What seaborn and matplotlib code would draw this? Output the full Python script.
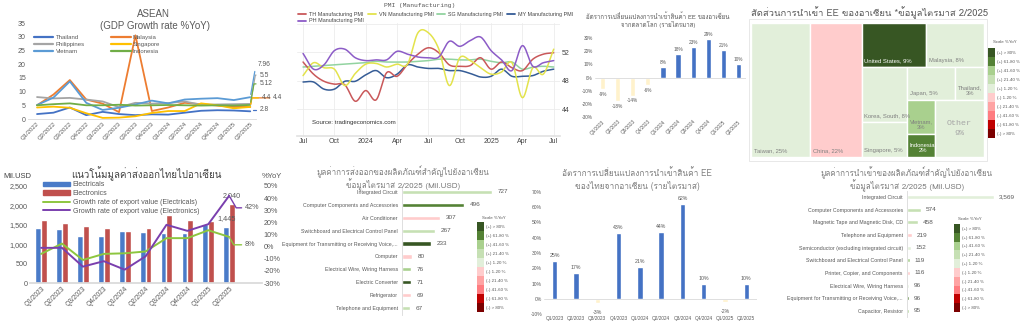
import numpy as np
import pandas as pd
import matplotlib
matplotlib.use("Agg")
import matplotlib.pyplot as plt
import seaborn as sns
from matplotlib import font_manager
from matplotlib.ft2font import FT2Font
from matplotlib.patches import Rectangle
from matplotlib.lines import Line2D
from matplotlib.patches import Patch

# ---------------- ASEAN GDP growth (%YoY) ----------------
gdp_quarters = ["Q1/2022", "Q2/2022", "Q3/2022", "Q4/2022", "Q1/2023", "Q2/2023", "Q3/2023",
                "Q4/2023", "Q1/2024", "Q2/2024", "Q3/2024", "Q4/2024", "Q1/2025", "Q2/2025"]
gdp_thailand = [1.8, 2.3, 4.2, 1.4, 2.6, 1.8, 1.4, 1.7, 1.6, 2.3, 3.0, 3.2, 3.1, 2.8]
gdp_malaysia = [5.0, 8.9, 14.2, 7.1, 5.6, 2.5, 30.5, 2.9, 4.2, 5.9, 5.4, 4.9, 4.4, 4.4]
gdp_philippines = [8.0, 7.5, 7.7, 7.1, 6.4, 4.3, 5.9, 5.6, 5.8, 6.4, 5.2, 5.3, 5.4, 5.5]
gdp_singapore = [4.2, 4.5, 4.1, 2.1, 0.4, 0.5, 1.0, 2.2, 2.9, 2.9, 5.7, 5.0, 3.9, 4.4]
gdp_vietnam = [5.1, 7.8, 13.7, 5.9, 3.3, 4.1, 5.3, 6.7, 5.7, 7.1, 7.4, 7.6, 6.9, 7.96]
gdp_indonesia = [5.0, 5.4, 5.7, 5.0, 5.0, 5.2, 4.9, 5.0, 5.1, 5.0, 4.9, 5.0, 4.9, 5.12]

# ---------------- Manufacturing PMI, Jul 2023 - Jul 2025 ----------------
pmi_ticks = ["Jul", "Oct", "2024", "Apr", "Jul", "Oct", "2025", "Apr", "Jul"]
pmi_th = [50.6, 48.9, 47.9, 47.5, 47.4, 45.1, 46.6, 45.3, 49.1, 48.6, 50.3, 51.7, 52.6,
          51.9, 50.2, 50.0, 50.1, 51.2, 49.6, 50.6, 49.8, 49.4, 51.0, 51.7, 51.9]
pmi_vn = [48.7, 50.5, 49.8, 49.6, 47.3, 49.0, 50.3, 50.4, 49.9, 50.3, 50.3, 54.7, 54.7,
          52.4, 47.3, 51.2, 50.8, 49.8, 48.9, 49.2, 50.5, 45.6, 49.8, 48.9, 52.4]
pmi_sg = [49.9, 50.0, 50.1, 50.2, 50.3, 50.4, 50.5, 50.7, 50.6, 50.6, 50.6, 50.7, 50.8,
          51.0, 51.0, 50.9, 50.9, 51.0, 50.7, 50.5, 50.6, 49.6, 49.9, 50.0, 49.9]
pmi_my = [47.8, 47.8, 46.8, 46.8, 47.9, 47.9, 48.8, 49.4, 48.4, 48.9, 50.2, 49.9, 49.7,
          49.7, 49.4, 49.4, 49.0, 48.5, 48.6, 49.6, 48.6, 48.6, 48.7, 49.3, 49.6]
pmi_ph = [51.8, 49.6, 50.2, 52.2, 52.4, 51.2, 50.8, 50.9, 50.9, 52.1, 51.7, 51.3, 51.2,
          51.3, 53.5, 52.8, 53.6, 54.1, 52.2, 50.9, 49.4, 52.9, 50.0, 50.5, 50.8]

# ---------------- ASEAN EE import growth from world (%) ----------------
imp_quarters = ["Q1/2023", "Q2/2023", "Q3/2023", "Q4/2023", "Q1/2024",
                "Q2/2024", "Q3/2024", "Q4/2024", "Q1/2025", "Q2/2025"]
asean_imp_growth = [-9, -18, -14, -6, 8, 18, 23, 29, 21, 10]

# ---------------- ASEAN EE import share, Q2/2025 ----------------
share_names = ["Taiwan", "China", "United States", "Malaysia", "Korea, South", "Singapore",
               "Japan", "Thailand", "Vietnam", "Indonesia", "Other"]
share_pct = [25, 22, 9, 8, 8, 5, 5, 3, 3, 2, 9]
share_scale = ["+1-20", "-1-20", "+>80", "+1-20", "+1-20", "+1-20",
               "+1-20", "+1-20", "+41-60", "+61-80", "+1-20"]

# ---------------- Thai exports to ASEAN ----------------
exp_quarters = ["Q1/2023", "Q2/2023", "Q3/2023", "Q4/2023", "Q1/2024",
                "Q2/2024", "Q3/2024", "Q4/2024", "Q1/2025", "Q2/2025"]
exp_electricals = [1420, 1390, 1210, 1210, 1340, 1320, 1300, 1300, 1530, 1445]
exp_electronics = [1620, 1540, 1460, 1420, 1330, 1430, 1750, 1620, 1600, 2040]
growth_electricals = [-6, 2.5, -11, -6, -5.5, -4, 7, 7, 13.5, 8]
growth_electronics = [-1, -1, -16.5, -12, -19, -8, 18, 13, 18.5, 42]

# ---------------- Key export products to ASEAN, Q2/2025 (Mil.USD) ----------------
exp_products = ["Integrated Circuit", "Computer Components and Accessories", "Air Conditioner",
                "Switchboard and Electrical Control Panel",
                "Equipment for Transmitting or Receiving Voice,...", "Computer",
                "Electrical Wire, Wiring Harness", "Electric Converter", "Refrigerator",
                "Telephone and Equipment"]
exp_product_values = [727, 496, 307, 267, 233, 80, 76, 71, 69, 67]
exp_product_scale = ["+21-40", "+61-80", "-1-20", "+21-40", "+>80", "-1-20",
                     "+41-60", "+>80", "-1-20", "+21-40"]

# ---------------- Thai EE import growth from ASEAN (%) ----------------
th_imp_quarters = ["Q1/2023", "Q2/2023", "Q3/2023", "Q4/2023", "Q1/2024",
                   "Q2/2024", "Q3/2024", "Q4/2024", "Q1/2025", "Q2/2025"]
th_imp_growth = [25, 17, -3, 43, 21, 44, 62, 10, -2, 10]

# ---------------- Key import products from ASEAN, Q2/2025 (Mil.USD) ----------------
imp_products = ["Integrated Circuit", "Computer Components and Accessories",
                "Magnetic Tape and Magnetic Disk, CD", "Telephone and Equipment",
                "Semiconductor (excluding integrated circuit)",
                "Switchboard and Electrical Control Panel", "Printer, Copier, and Components",
                "Electrical Wire, Wiring Harness",
                "Equipment for Transmitting or Receiving Voice,...", "Capacitor, Resistor"]
imp_product_values = [3569, 574, 458, 219, 152, 119, 116, 96, 96, 95]
imp_product_scale = ["+1-20", "+21-40", "+21-40", "-1-20", "+1-20", "+41-60", "-1-20",
                     "+1-20", "+61-80", "+41-60"]

scale_keys = ["+>80", "+61-80", "+41-60", "+21-40", "+1-20",
              "-1-20", "-21-40", "-41-60", "-61-80", "->80"]
scale_labels = ["(+) > 80%", "(+) 61-80 %", "(+) 41-60 %", "(+) 21-40 %", "(+) 1-20 %",
                "(-) 1-20 %", "(-) 21-40 %", "(-) 41-60 %", "(-) 61-80 %", "(-) > 80%"]
scale_colors = ["#375623", "#548235", "#a9d08e", "#c6e0b4", "#e2efda",
                "#ffcccc", "#ffa3a3", "#ff7c80", "#c00000", "#7b0000"]
scale_map = dict(zip(scale_keys, scale_colors))

# ---------------- fonts ----------------
sns.set_theme(style="white")


def font_with_char(ch):
    code = ord(ch)
    seen = set()
    for f in font_manager.fontManager.ttflist:
        if f.fname in seen:
            continue
        seen.add(f.fname)
        try:
            if code in FT2Font(f.fname).get_charmap():
                return f.name
        except Exception:
            continue
    return None


thai_font = font_with_char("\u0e01")
installed = {f.name for f in font_manager.fontManager.ttflist}
narrow = "Liberation Sans Narrow" if "Liberation Sans Narrow" in installed else "Liberation Sans"
LATIN = [narrow, "Liberation Sans", "DejaVu Sans"]
THAI = ([thai_font] if thai_font else []) + ["Liberation Sans", "DejaVu Sans"]
MONO = ["Liberation Mono", "DejaVu Sans Mono"]
plt.rcParams["font.family"] = LATIN

GRAY = "#595959"
LGRAY = "#7f7f7f"

W, H = 1024, 328
fig = plt.figure(figsize=(W / 100, H / 100), dpi=100)
fig.patch.set_facecolor("white")


def add_px(x0, y0, x1, y1):
    return fig.add_axes([x0 / W, 1 - y1 / H, (x1 - x0) / W, (y1 - y0) / H])


def ftext(x, y, s, **kw):
    fig.text(x / W, 1 - y / H, s, **kw)


def fline(x0, x1, y, **kw):
    fig.add_artist(Line2D([x0 / W, x1 / W], [1 - y / H, 1 - y / H], transform=fig.transFigure, **kw))


def clean(ax):
    for s in ax.spines.values():
        s.set_visible(False)
    ax.tick_params(length=0, pad=1.5)
    ax.set_xlabel("")
    ax.set_ylabel("")
    ax.set_facecolor("none")


def scale_legend(x0, y0, x1, y1, title_x, title_y):
    lax = add_px(x0, y0, x1, y1)
    lax.set_xlim(0, 1)
    lax.set_ylim(len(scale_colors), 0)
    lax.axis("off")
    for i, c in enumerate(scale_colors):
        lax.add_patch(Rectangle((0, i), 1, 1, facecolor=c, edgecolor="none"))
        lax.text(1.35, i + 0.55, scale_labels[i], fontsize=3.2, color=GRAY,
                 va="center", ha="left", clip_on=False)
    ftext(title_x, title_y, "Scale %YoY", fontsize=3.2, color=GRAY, ha="left", va="center")


def smooth(x, y, n=12):
    """Catmull-Rom spline through the monthly points for a rounded line shape."""
    x = np.asarray(x, float)
    y = np.asarray(y, float)
    px = np.concatenate([[2 * x[0] - x[1]], x, [2 * x[-1] - x[-2]]])
    py = np.concatenate([[2 * y[0] - y[1]], y, [2 * y[-1] - y[-2]]])
    xs, ys = [], []
    t = np.linspace(0, 1, n, endpoint=False)
    for i in range(1, len(px) - 2):
        for arr, out in ((px, xs), (py, ys)):
            p0, p1, p2, p3 = arr[i - 1], arr[i], arr[i + 1], arr[i + 2]
            out.extend(0.5 * (2 * p1 + (-p0 + p2) * t + (2 * p0 - 5 * p1 + 4 * p2 - p3) * t ** 2
                              + (-p0 + 3 * p1 - 3 * p2 + p3) * t ** 3))
    xs.append(x[-1])
    ys.append(y[-1])
    return np.array(xs), np.array(ys)


# ======================= 1. ASEAN GDP growth =======================
ax1 = add_px(28, 23, 256, 119)
countries = ["Thailand", "Malaysia", "Philippines", "Singapore", "Vietnam", "Indonesia"]
gdp_series = [gdp_thailand, gdp_malaysia, gdp_philippines, gdp_singapore, gdp_vietnam, gdp_indonesia]
country_colors = {"Thailand": "#4472c4", "Malaysia": "#ed7d31", "Philippines": "#a5a5a5",
                  "Singapore": "#ffc000", "Vietnam": "#5b9bd5", "Indonesia": "#70ad47"}
gdp_df = pd.DataFrame({
    "idx": np.tile(np.arange(len(gdp_quarters)), len(countries)),
    "gdp": np.concatenate(gdp_series),
    "country": np.repeat(countries, len(gdp_quarters)),
})
sns.lineplot(data=gdp_df, x="idx", y="gdp", hue="country", palette=country_colors,
             linewidth=1.3, ax=ax1, legend=False)
clean(ax1)
ax1.spines["bottom"].set_visible(True)
ax1.spines["bottom"].set_color("#d9d9d9")
ax1.spines["bottom"].set_linewidth(0.6)
ax1.set_xlim(-0.55, 13.35)
ax1.set_ylim(0, 35)
ax1.set_yticks(range(0, 36, 5))
ax1.set_yticklabels([str(v) for v in range(0, 36, 5)], fontsize=5, color=GRAY)
ax1.set_xticks(range(len(gdp_quarters)))
ax1.set_xticklabels(gdp_quarters, fontsize=4.3, color=GRAY, rotation=45, ha="right",
                    rotation_mode="anchor")
end_labels = {
    "Vietnam": ("7.96", 13.45, 19.8),
    "Philippines": ("5.5", 13.55, 16.0),
    "Indonesia": ("5.12", 13.55, 12.8),
    "Singapore": ("4.4", 13.7, 7.7),
    "Malaysia": ("4.4", 14.4, 7.7),
    "Thailand": ("2.8", 13.55, 3.3),
}
for name, series in zip(countries, gdp_series):
    txt, lx, ly = end_labels[name]
    ax1.annotate(txt, xy=(len(series) - 1, series[-1]), xytext=(lx, ly),
                 textcoords="data", fontsize=4.8, color=GRAY, va="center", ha="left",
                 annotation_clip=False,
                 arrowprops=dict(arrowstyle="-", color=country_colors[name], lw=0.9,
                                 shrinkA=0, shrinkB=2, connectionstyle="angle,angleA=0,angleB=80,rad=0"))
handles = [Line2D([], [], color=country_colors[c], lw=1.6) for c in
           ["Thailand", "Philippines", "Vietnam", "Malaysia", "Singapore", "Indonesia"]]
labels = ["Thailand", "Philippines", "Vietnam", "Malaysia", "Singapore", "Indonesia"]
fig.legend(handles, labels, ncol=2, loc="upper left", bbox_to_anchor=(31 / W, 1 - 32 / H),
           frameon=False, fontsize=4.3, handlelength=3.2, handletextpad=0.4,
           columnspacing=4.5, labelspacing=0.3, labelcolor=GRAY, borderpad=0)
ftext(153, 14, "ASEAN", fontsize=7, color=GRAY, ha="center", va="center")
ftext(155, 26, "(GDP Growth rate %YoY)", fontsize=7, color=GRAY, ha="center", va="center")

# ======================= 2. PMI =======================
ax2 = add_px(297, 23.5, 560, 135.5)
pmi_colors = {"TH": "#c9585a", "VN": "#e3e34c", "SG": "#92d3a0", "MY": "#355c96", "PH": "#8c5cc7"}
pmi_series = {"TH": pmi_th, "VN": pmi_vn, "SG": pmi_sg, "MY": pmi_my, "PH": pmi_ph}
months = np.arange(len(pmi_th))
for key in ["SG", "MY", "TH", "VN", "PH"]:
    sx, sy = smooth(months, pmi_series[key])
    sns.lineplot(x=sx, y=sy, color=pmi_colors[key], linewidth=1.1, ax=ax2,
                 estimator=None, sort=False)
clean(ax2)
ax2.set_xlim(-0.58, 24.6)
ax2.set_ylim(40.3, 56.0)
ax2.yaxis.tick_right()
ax2.set_yticks([44, 48, 52, 56])
ax2.set_yticklabels(["44", "48", "52", ""], fontsize=5, color="#444444")
ax2.set_xticks(range(0, 25, 3))
ax2.set_xticklabels(pmi_ticks, fontsize=5, color="#444444")
ax2.grid(True, color="#ececec", lw=0.6)
ax2.spines["bottom"].set_visible(True)
ax2.spines["bottom"].set_color("#e3e3e3")
ax2.text(0.85, 41.9, "Source: tradingeconomics.com", fontsize=4.4, color="#333333")
# legend entries laid out in two rows across the top of the panel
pmi_legend_pos = {"TH": (298, 14.3), "VN": (368, 14.3), "SG": (437, 14.3),
                  "MY": (507, 14.3), "PH": (298, 20.7)}
for key, (lx, ly) in pmi_legend_pos.items():
    fline(lx, lx + 8, ly, color=pmi_colors[key], lw=1.3)
    ftext(lx + 11, ly, f"{key} Manufacturing PMI", fontsize=3.9, color="#444444",
          ha="left", va="center")
ftext(420, 5, "PMI (Manufacturing)", fontsize=4.5, color="#555555", ha="center", va="center",
      family=MONO)

# ======================= 3. ASEAN EE import growth =======================
ax3 = add_px(595, 38, 746, 117)
bar_col3 = ["#4472c4" if v > 0 else "#fff2cc" for v in asean_imp_growth]
sns.barplot(x=imp_quarters, y=asean_imp_growth, hue=imp_quarters, palette=bar_col3,
            width=0.35, ax=ax3, legend=False, saturation=1)
clean(ax3)
ax3.axhline(0, color="#d9d9d9", lw=0.6)
ax3.set_xlim(-0.5, 9.5)
ax3.set_ylim(-30, 30)
ax3.set_yticks(range(-30, 31, 10))
ax3.set_yticklabels([f"{v}%" for v in range(-30, 31, 10)], fontsize=3.4, color=GRAY)
ax3.set_xticks(range(len(imp_quarters)))
ax3.set_xticklabels(imp_quarters, fontsize=3.4, color=GRAY, rotation=45, ha="right",
                    rotation_mode="anchor")
for i, v in enumerate(asean_imp_growth):
    ax3.text(i, v + (1.5 if v > 0 else -1.8), f"{v}%", fontsize=3.4, color=GRAY,
             ha="center", va="bottom" if v > 0 else "top")
ftext(658, 16, "อัตราการเปลี่ยนแปลงการนำเข้าสินค้า EE ของอาเซียน", fontsize=4.4, color=GRAY,
      ha="center", va="center", family=THAI)
ftext(658, 25, "จากตลาดโลก (รายไตรมาส)", fontsize=4.4, color=GRAY, ha="center", va="center",
      family=THAI)

# ======================= 4. Treemap of import share =======================
fig.add_artist(Rectangle((749 / W, 1 - 161 / H), 238 / W, 142 / H, transform=fig.transFigure,
                         facecolor="none", edgecolor="#e4e4e4", lw=0.6))
ax4 = add_px(751, 23, 984, 157)
ax4.set_xlim(0, 1)
ax4.set_ylim(1, 0)
ax4.axis("off")
share = dict(zip(share_names, share_pct))
layout_tree = ("h", ["Taiwan", "China",
                     ("v", [("h", ["United States", "Malaysia"]),
                            ("h", [("v", ["Korea, South", "Singapore"]),
                                   ("v", [("h", ["Japan", "Thailand"]),
                                          ("h", [("v", ["Vietnam", "Indonesia"]), "Other"])])])])])


def node_total(node):
    if isinstance(node, str):
        return share[node]
    return sum(node_total(c) for c in node[1])


def lay_out(node, x, y, w, h, out):
    if isinstance(node, str):
        out[node] = (x, y, w, h)
        return
    direction, kids = node
    tot = node_total(node)
    pos = 0.0
    for k in kids:
        frac = node_total(k) / tot
        if direction == "h":
            lay_out(k, x + pos * w, y, w * frac, h, out)
        else:
            lay_out(k, x, y + pos * h, w, h * frac, out)
        pos += frac


cells = {}
lay_out(layout_tree, 0, 0, 1, 1, cells)
wrap_names = {"Thailand", "Vietnam", "Indonesia"}
for name, pct, sc in zip(share_names, share_pct, share_scale):
    x, y, w, h = cells[name]
    ax4.add_patch(Rectangle((x, y), w, h, facecolor=scale_map[sc], edgecolor="white", lw=1.0))
    dark = sc in ("+>80", "+61-80")
    tc = "white" if dark else LGRAY
    if name == "Other":
        ax4.text(x + w / 2, y + h / 2, f"Other\n{pct}%", fontsize=6, color="#a6a6a6",
                 ha="center", va="center", family=MONO, linespacing=1.5)
    elif name in wrap_names:
        ax4.text(x + 0.012, y + h - 0.03, f"{name},\n{pct}%", fontsize=4.2, color=tc,
                 ha="left", va="bottom", multialignment="center", linespacing=1.2)
    else:
        ax4.text(x + 0.012, y + h - 0.03, f"{name}, {pct}%", fontsize=4.2, color=tc,
                 ha="left", va="bottom")
ftext(751, 13, "สัดส่วนการนำเข้า EE ของอาเซียน *ข้อมูลไตรมาส 2/2025", fontsize=6.8, color=GRAY,
      ha="left", va="center", family=THAI)
scale_legend(988, 47.7, 994.7, 138, 993, 42)

# ======================= 5. Thai exports to ASEAN =======================
ax5 = add_px(30, 186, 262, 283)
exp_df = pd.DataFrame({
    "quarter": exp_quarters * 2,
    "value": exp_electricals + exp_electronics,
    "series": ["Electricals"] * len(exp_quarters) + ["Electronics"] * len(exp_quarters),
})
exp_colors = {"Electricals": "#4a7bc8", "Electronics": "#c0504d"}
sns.barplot(data=exp_df, x="quarter", y="value", hue="series", palette=exp_colors,
            width=0.56, ax=ax5, legend=False, saturation=1)
clean(ax5)
ax5.spines["bottom"].set_visible(True)
ax5.spines["bottom"].set_color("#d9d9d9")
ax5.set_xlim(-0.53, 10.57)
ax5.set_ylim(0, 2500)
ax5.set_yticks(range(0, 2501, 500))
ax5.set_yticklabels([f"{v:,}" for v in range(0, 2501, 500)], fontsize=5.2, color=GRAY)
ax5.set_xticks(range(len(exp_quarters)))
ax5.set_xticklabels(exp_quarters, fontsize=4.8, color=GRAY, rotation=45, ha="right",
                    rotation_mode="anchor")
ax5b = ax5.twinx()
growth_colors = {"el": "#8dc63f", "ec": "#7a3fae"}
sns.lineplot(x=np.arange(len(exp_quarters)), y=growth_electricals, color=growth_colors["el"],
             linewidth=1.4, ax=ax5b)
sns.lineplot(x=np.arange(len(exp_quarters)), y=growth_electronics, color=growth_colors["ec"],
             linewidth=1.4, ax=ax5b)
clean(ax5b)
ax5b.set_ylim(-30, 50)
ax5b.set_yticks(range(-30, 51, 10))
ax5b.set_yticklabels([f"{v}%" for v in range(-30, 51, 10)], fontsize=5.2, color=GRAY)
ax5b.yaxis.tick_right()
ax5b.tick_params(axis="y", pad=1)
ax5.set_xlim(-0.53, 10.57)
last = len(exp_quarters) - 1
ax5b.annotate(f"{growth_electronics[-1]:.0f}%", xy=(last, growth_electronics[-1]),
              xytext=(9.75, 32), fontsize=5.2, color=GRAY, va="center", ha="left",
              annotation_clip=False,
              arrowprops=dict(arrowstyle="-", color=growth_colors["ec"], lw=1.0, shrinkA=0,
                              shrinkB=1, connectionstyle="angle,angleA=0,angleB=-60,rad=0"))
ax5b.annotate(f"{growth_electricals[-1]:.0f}%", xy=(last, growth_electricals[-1]),
              xytext=(9.75, 1.5), fontsize=5.2, color=GRAY, va="center", ha="left",
              annotation_clip=False,
              arrowprops=dict(arrowstyle="-", color=growth_colors["el"], lw=1.0, shrinkA=0,
                              shrinkB=1, connectionstyle="angle,angleA=0,angleB=-60,rad=0"))
ax5.text(last + 0.14, exp_electronics[-1] + 130, f"{exp_electronics[-1]:,}", fontsize=5.2,
         color=GRAY, ha="center", va="bottom")
ax5.text(last - 0.14, exp_electricals[-1] + 120, f"{exp_electricals[-1]:,}", fontsize=5.2,
         color=GRAY, ha="center", va="bottom")
leg5 = [Patch(color=exp_colors["Electricals"]), Patch(color=exp_colors["Electronics"]),
        Line2D([], [], color=growth_colors["el"], lw=1.4),
        Line2D([], [], color=growth_colors["ec"], lw=1.4)]
fig.legend(leg5, ["Electricals", "Electronics", "Growth rate of export value (Electricals)",
                  "Growth rate of export value (Electronics)"],
           loc="upper left", bbox_to_anchor=(40 / W, 1 - 178 / H), frameon=False, fontsize=5,
           handlelength=3.8, handleheight=0.7, handletextpad=0.4, labelspacing=0.25,
           labelcolor=GRAY, borderpad=0)
ftext(146, 174, "แนวโน้มมูลค่าส่งออกไทยไปอาเซียน", fontsize=7, color="#404040", ha="center",
      va="center", family=THAI)
ftext(3, 176, "Mil.USD", fontsize=5.5, color="#404040", ha="left", va="center")
ftext(262, 176, "%YoY", fontsize=5.5, color=GRAY, ha="left", va="center")


# ======================= 6/8. Product bars =======================
def product_bars(ax, products, values, scale, xmax, bar_h):
    cols = [scale_map[s] for s in scale]
    sns.barplot(x=values, y=products, hue=products, palette=cols, orient="h", width=bar_h,
                ax=ax, legend=False, saturation=1)
    clean(ax)
    ax.spines["left"].set_visible(True)
    ax.spines["left"].set_color("#d9d9d9")
    ax.spines["left"].set_linewidth(0.6)
    ax.set_xlim(0, xmax)
    ax.set_xticks([])
    ax.set_yticks(range(len(products)))
    ax.set_yticklabels(products, fontsize=3.8, color=GRAY)
    ax.tick_params(axis="y", pad=3)
    for i, v in enumerate(values):
        ax.text(v + xmax * 0.05, i, f"{v:,}", fontsize=4.6, color=GRAY, va="center", ha="left",
                clip_on=False)


ax6 = add_px(402, 185.5, 514, 314.5)
product_bars(ax6, exp_products, exp_product_values, exp_product_scale, 900, 0.33)
ftext(403, 172, "มูลค่าการส่งออกของผลิตภัณฑ์สำคัญไปยังอาเซียน", fontsize=5.8, color=LGRAY,
      ha="center", va="center", family=THAI)
ftext(403, 185, "ข้อมูลไตรมาส 2/2025 (Mil.USD)", fontsize=5.8, color=LGRAY, ha="center",
      va="center", family=THAI)
scale_legend(477, 222, 483.5, 312, 482, 218)

ax8 = add_px(907, 190.7, 994, 317.3)
product_bars(ax8, imp_products, imp_product_values, imp_product_scale, 3569, 0.33)
ax8.set_xlim(0, 3569)
ftext(907, 173, "มูลค่าการนำเข้าของผลิตภัณฑ์สำคัญไปยังอาเซียน", fontsize=5.8, color=LGRAY,
      ha="center", va="center", family=THAI)
ftext(907, 186, "ข้อมูลไตรมาส 2/2025 (Mil.USD)", fontsize=5.8, color=LGRAY, ha="center",
      va="center", family=THAI)
scale_legend(954, 224, 960, 312, 958, 219)

# ======================= 7. Thai EE import growth from ASEAN =======================
ax7 = add_px(544, 192, 757, 314)
bar_col7 = ["#4472c4" if v > 0 else "#fff2cc" for v in th_imp_growth]
sns.barplot(x=th_imp_quarters, y=th_imp_growth, hue=th_imp_quarters, palette=bar_col7,
            width=0.25, ax=ax7, legend=False, saturation=1)
clean(ax7)
ax7.axhline(0, color="#d9d9d9", lw=0.6)
ax7.set_xlim(-0.5, 9.5)
ax7.set_ylim(-10, 70)
ax7.set_yticks(range(-10, 71, 10))
ax7.set_yticklabels([f"{v}%" for v in range(-10, 71, 10)], fontsize=3.6, color=GRAY)
ax7.set_xticks(range(len(th_imp_quarters)))
ax7.set_xticklabels(th_imp_quarters, fontsize=3.4, color=GRAY)
for i, v in enumerate(th_imp_growth):
    if v > 0:
        ax7.text(i, v + 1.8, f"{v}%", fontsize=3.8, color=GRAY, ha="center", va="bottom")
    else:
        ax7.text(i, v - 4.5, f"{v}%", fontsize=3.8, color=GRAY, ha="center", va="top")
ftext(637, 173, "อัตราการเปลี่ยนแปลงการนำเข้าสินค้า EE", fontsize=6.0, color=LGRAY,
      ha="center", va="center", family=THAI)
ftext(637, 186, "ของไทยจากอาเซียน (รายไตรมาส)", fontsize=6.0, color=LGRAY, ha="center",
      va="center", family=THAI)

fig.savefig("out.png", dpi=100, facecolor="white")
